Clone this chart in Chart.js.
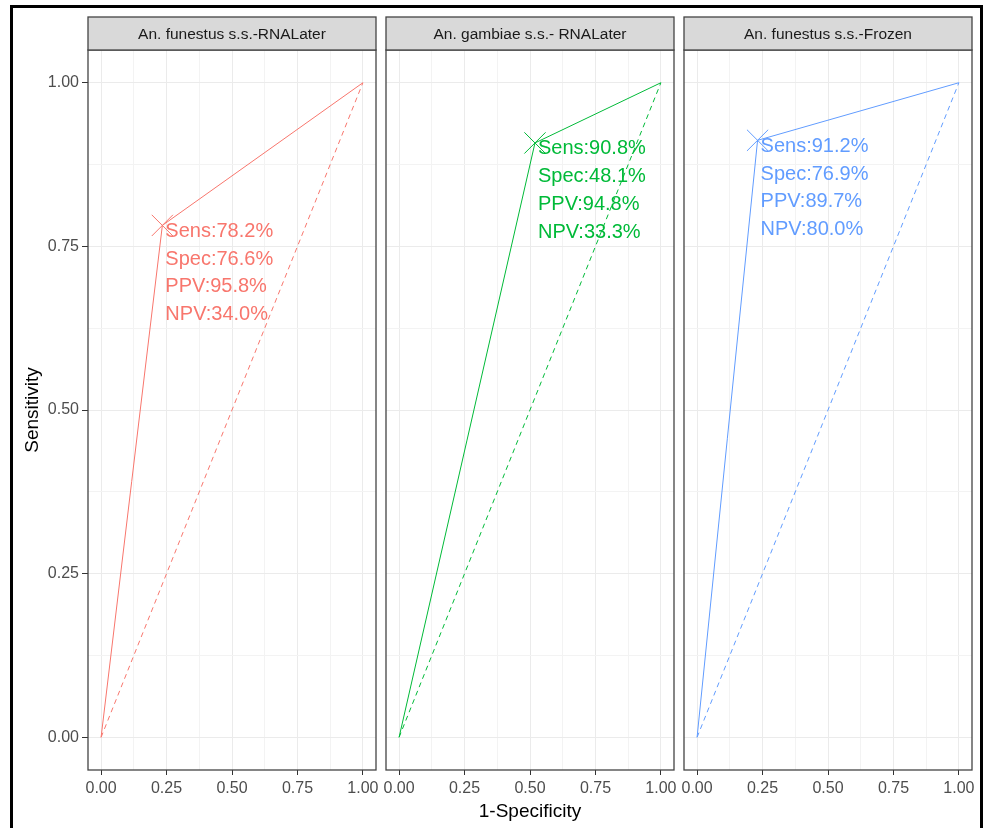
<!DOCTYPE html>
<html lang="en">
<head>
  <meta charset="UTF-8">
  <title>ROC curves by species and preservation</title>
  <script src="https://cdn.jsdelivr.net/npm/chart.js"></script>
  <style>
    body {
      margin: 0;
      background: #FFFFFF;
      font-family: "Liberation Sans", Arial, sans-serif;
    }
    #page {
      position: relative;
      width: 985px;
      height: 828px;
      overflow: hidden;
      background: #FFFFFF;
    }
    #frame {
      position: absolute;
      left: 10px;
      top: 5px;
      width: 967px;
      height: 840px;
      border: 3px solid #000000;
    }
    canvas {
      position: absolute;
      top: 0;
    }
  </style>
</head>
<body>
  <div id="page">
    <div id="frame"></div>
    <canvas id="panel0"></canvas>
    <canvas id="panel1"></canvas>
    <canvas id="panel2"></canvas>
  </div>

  <script>
    // values
    const panelTitles = ["An. funestus s.s.-RNALater", "An. gambiae s.s.- RNALater", "An. funestus s.s.-Frozen"];
    const sensitivity = [0.782, 0.908, 0.912];
    const specificity = [0.766, 0.481, 0.769];
    const ppv = [0.958, 0.948, 0.897];
    const npv = [0.340, 0.333, 0.800];
    const colors = ["#F8766D", "#00BA38", "#619CFF"];
    const majorTicks = [0, 0.25, 0.5, 0.75, 1];
    const minorTicks = [0.125, 0.375, 0.625, 0.875];

    const FONT = '"Liberation Sans", Arial, sans-serif';
    const panelLefts = [88, 386, 684];
    const panelWidth = 288;
    const stripTop = 17;

    const pct = v => (v * 100).toFixed(1) + "%";

    // strip, panel border and the Sens/Spec/PPV/NPV label
    const facetPlugin = {
      id: "facet",
      afterDraw(chart, args, opts) {
        const { ctx, chartArea: a } = chart;
        ctx.save();
        ctx.strokeStyle = "#444444";
        ctx.lineWidth = 1.3;
        ctx.strokeRect(a.left, a.top, a.right - a.left, a.bottom - a.top);

        ctx.fillStyle = "#D9D9D9";
        ctx.fillRect(a.left, stripTop, a.right - a.left, a.top - stripTop);
        ctx.strokeRect(a.left, stripTop, a.right - a.left, a.top - stripTop);
        ctx.fillStyle = "#1A1A1A";
        ctx.font = "15.5px " + FONT;
        ctx.textAlign = "center";
        ctx.textBaseline = "middle";
        ctx.fillText(opts.title, (a.left + a.right) / 2, (stripTop + a.top) / 2 + 1);

        const x = chart.scales.x.getPixelForValue(opts.fpr) + 3;
        const y = chart.scales.y.getPixelForValue(opts.sens);
        ctx.fillStyle = opts.color;
        ctx.font = "20px " + FONT;
        ctx.textAlign = "left";
        opts.lines.forEach((t, i) => ctx.fillText(t, x, y + 6 + i * 27.7));
        ctx.restore();
      }
    };

    function setTicks(scale) {
      scale.ticks = majorTicks.concat(minorTicks).map(v => ({ value: v }));
    }
    const isMajor = ctx => ctx.tick && majorTicks.includes(ctx.tick.value);

    panelTitles.forEach((title, i) => {
      const canvas = document.getElementById("panel" + i);
      const left = i === 0 ? 12 : panelLefts[i] - 12;
      const right = panelLefts[i] + panelWidth + 8;
      canvas.width = right - left;
      canvas.height = 828;
      canvas.style.left = left + "px";

      const fpr = 1 - specificity[i];
      const sens = sensitivity[i];
      const col = colors[i];

      new Chart(canvas.getContext("2d"), {
        type: "scatter",
        data: {
          datasets: [
            {
              data: [{ x: 0, y: 0 }, { x: fpr, y: sens }, { x: 1, y: 1 }],
              showLine: true,
              borderColor: col,
              borderWidth: 1,
              pointRadius: 0
            },
            {
              data: [{ x: 0, y: 0 }, { x: 1, y: 1 }],
              showLine: true,
              borderColor: col,
              borderWidth: 1,
              borderDash: [5, 4],
              pointRadius: 0
            },
            {
              data: [{ x: fpr, y: sens }],
              pointStyle: "crossRot",
              pointRadius: 15,
              pointHoverRadius: 15,
              borderColor: col,
              borderWidth: 1
            }
          ]
        },
        options: {
          responsive: false,
          animation: false,
          events: [],
          layout: {
            autoPadding: false,
            padding: { left: i === 0 ? 0 : 12, right: 8, top: 50, bottom: 0 }
          },
          plugins: {
            legend: { display: false },
            tooltip: { enabled: false },
            facet: {
              title: title,
              fpr: fpr,
              sens: sens,
              color: col,
              lines: [
                "Sens:" + pct(sens),
                "Spec:" + pct(specificity[i]),
                "PPV:" + pct(ppv[i]),
                "NPV:" + pct(npv[i])
              ]
            }
          },
          scales: {
            x: {
              type: "linear",
              min: -0.05,
              max: 1.05,
              afterBuildTicks: setTicks,
              afterFit: s => { s.height = 58; },
              border: { display: false },
              grid: {
                color: c => isMajor(c) ? "#EBEBEB" : "#F3F3F3",
                lineWidth: 1,
                tickLength: 5,
                tickColor: c => isMajor(c) ? "#333333" : "rgba(0,0,0,0)"
              },
              ticks: {
                autoSkip: false,
                maxRotation: 0,
                padding: 4,
                color: "#4D4D4D",
                font: { family: FONT, size: 16 },
                callback: v => majorTicks.includes(v) ? v.toFixed(2) : ""
              },
              title: {
                display: i === 1,
                text: "1-Specificity",
                color: "#000000",
                font: { family: FONT, size: 19 },
                padding: { top: 0, bottom: 5 }
              }
            },
            y: {
              type: "linear",
              min: -0.05,
              max: 1.05,
              afterBuildTicks: setTicks,
              afterFit: s => { s.width = i === 0 ? 76 : 0; },
              border: { display: false },
              grid: {
                color: c => isMajor(c) ? "#EBEBEB" : "#F3F3F3",
                lineWidth: 1,
                drawTicks: i === 0,
                tickLength: 6,
                tickColor: c => isMajor(c) ? "#333333" : "rgba(0,0,0,0)"
              },
              ticks: {
                display: i === 0,
                autoSkip: false,
                padding: 3,
                color: "#4D4D4D",
                font: { family: FONT, size: 16 },
                callback: v => majorTicks.includes(v) ? v.toFixed(2) : ""
              },
              title: {
                display: i === 0,
                text: "Sensitivity",
                color: "#000000",
                font: { family: FONT, size: 19 },
                padding: { top: 9, bottom: 0 }
              }
            }
          }
        },
        plugins: [facetPlugin]
      });
    });
  </script>
</body>
</html>
